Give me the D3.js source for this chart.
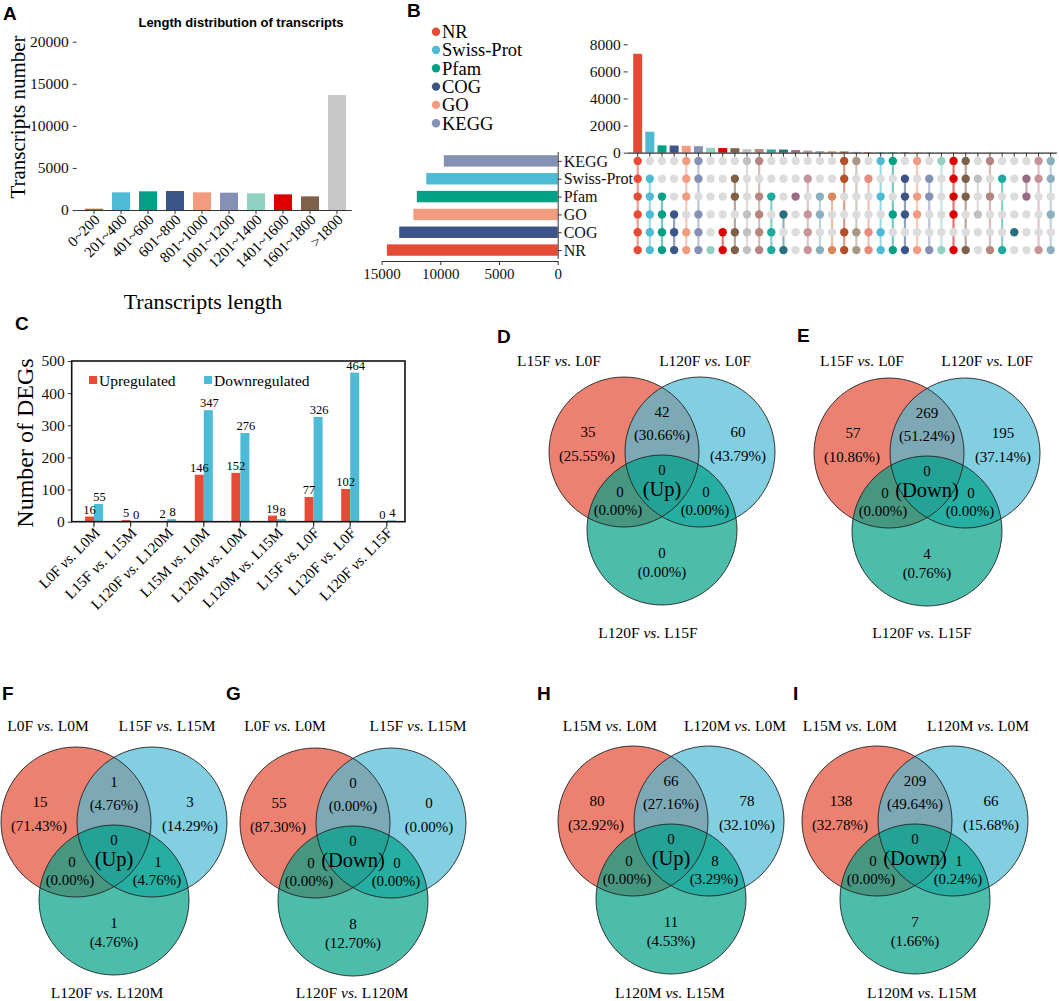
<!DOCTYPE html>
<html>
<head>
<meta charset="utf-8">
<script src="https://cdn.jsdelivr.net/npm/d3@7"></script>
<style>
  body { margin: 0; background: #fff; }
  svg { display: block; font-family: 'Liberation Serif', 'Times New Roman', serif; }
  .panel-letter { font-family: 'Liberation Sans', Arial, sans-serif; font-weight: bold; font-size: 19px; }
</style>
</head>
<body>
<svg id="figure" width="1059" height="1001"></svg>
<script>
// ---- data ----
// A: length distribution
var lengthBins = ['0~200', '201~400', '401~600', '601~800', '801~1000', '1001~1200', '1201~1400', '1401~1600', '1601~1800', '>1800'];
var lengthCounts = [150, 2100, 2220, 2260, 2100, 2060, 1980, 1860, 1620, 13660];

// B: annotation databases
var dbNames = ['KEGG', 'Swiss-Prot', 'Pfam', 'GO', 'COG', 'NR'];
var dbTotals = [9700, 11200, 12000, 12300, 13500, 14550];
var legendNames = ['NR', 'Swiss-Prot', 'Pfam', 'COG', 'GO', 'KEGG'];
var comboSets = [
  ['KEGG', 'Swiss-Prot', 'Pfam', 'GO', 'COG', 'NR'],
  ['Swiss-Prot', 'Pfam', 'GO', 'COG', 'NR'],
  ['Pfam', 'GO', 'COG', 'NR'],
  ['GO', 'COG', 'NR'],
  ['KEGG', 'Swiss-Prot', 'Pfam', 'COG', 'NR'],
  ['KEGG', 'Swiss-Prot', 'GO', 'COG', 'NR'],
  ['NR'],
  ['COG', 'NR'],
  ['Swiss-Prot', 'Pfam', 'COG', 'NR'],
  ['KEGG', 'GO', 'COG', 'NR'],
  ['KEGG', 'Pfam', 'GO', 'COG', 'NR'],
  ['Pfam', 'COG', 'NR'],
  ['GO', 'NR'],
  ['Pfam'],
  ['Swiss-Prot', 'GO', 'COG', 'NR'],
  ['Pfam', 'GO', 'NR'],
  ['Pfam', 'NR'],
  ['KEGG', 'Swiss-Prot', 'COG', 'NR'],
  ['KEGG', 'COG', 'NR'],
  ['Swiss-Prot', 'COG', 'NR'],
  ['KEGG', 'Pfam', 'COG', 'NR'],
  ['KEGG', 'GO', 'NR'],
  ['Swiss-Prot', 'Pfam', 'GO', 'NR'],
  ['KEGG', 'Pfam', 'GO', 'NR'],
  ['Swiss-Prot', 'Pfam', 'NR'],
  ['KEGG', 'NR'],
  ['KEGG', 'Swiss-Prot', 'Pfam', 'GO', 'NR'],
  ['KEGG', 'Swiss-Prot', 'Pfam', 'NR'],
  ['Swiss-Prot', 'GO'],
  ['KEGG', 'Pfam', 'NR'],
  ['Swiss-Prot', 'NR'],
  ['COG'],
  ['Swiss-Prot', 'Pfam'],
  ['KEGG', 'Swiss-Prot', 'NR'],
  ['KEGG', 'Swiss-Prot', 'GO', 'NR']
];
var comboCounts = [7300, 1550, 540, 530, 510, 480, 360, 340, 330, 260, 270, 240, 230, 190, 160, 120, 100, 90, 60, 50,
  40, 35, 30, 25, 20, 18, 15, 12, 10, 8, 6, 5, 4, 3, 2];

// C: DEG counts
var degGroups = ['L0F vs. L0M', 'L15F vs. L15M', 'L120F vs. L120M', 'L15M vs. L0M', 'L120M vs. L0M',
  'L120M vs. L15M', 'L15F vs. L0F', 'L120F vs. L0F', 'L120F vs. L15F'];
var degUp = [16, 5, 2, 146, 152, 19, 77, 102, 0];
var degDown = [55, 0, 8, 347, 276, 8, 326, 464, 4];

// D-I: Venn diagrams, counts in order [A, B, C, AB, AC, BC, ABC]
var vennLetters = ['D', 'E', 'F', 'G', 'H', 'I'];
var vennDirections = ['Up', 'Down', 'Up', 'Down', 'Up', 'Down'];
var vennSetNames = [
  ['L15F vs. L0F', 'L120F vs. L0F', 'L120F vs. L15F'],
  ['L15F vs. L0F', 'L120F vs. L0F', 'L120F vs. L15F'],
  ['L0F vs. L0M', 'L15F vs. L15M', 'L120F vs. L120M'],
  ['L0F vs. L0M', 'L15F vs. L15M', 'L120F vs. L120M'],
  ['L15M vs. L0M', 'L120M vs. L0M', 'L120M vs. L15M'],
  ['L15M vs. L0M', 'L120M vs. L0M', 'L120M vs. L15M']
];
var vennCounts = [
  [35, 60, 0, 42, 0, 0, 0],
  [57, 195, 4, 269, 0, 0, 0],
  [15, 3, 1, 1, 0, 1, 0],
  [55, 0, 8, 0, 0, 0, 0],
  [80, 78, 11, 66, 0, 8, 0],
  [138, 66, 7, 209, 0, 1, 0]
];

// ---- styles / layout ----
var npg = ['#e64b35', '#4dbbd5', '#00a087', '#3c5488', '#f39b7f', '#8491b4', '#91d1c2', '#dc0000', '#7e6148', '#c8c8c8'];
var comboColors = ['#e64b35', '#4dbbd5', '#00a087', '#3c5488', '#f39b7f', '#8491b4', '#91d1c2', '#dc0000', '#7e6148', '#c0c0c0',
  '#b5857f', '#20aa9e', '#2a6f80', '#9a6b85', '#c49499', '#8ab0bf', '#d9885a', '#b3502a', '#a89786', '#e88a7c',
  '#4dbbd5', '#00a087', '#3c5488', '#f39b7f', '#8491b4', '#91d1c2', '#dc0000', '#7e6148', '#c0c0c0', '#b5857f',
  '#20aa9e', '#2a6f80', '#9a6b85', '#c49499', '#8ab0bf'];
var dbColor = d3.scaleOrdinal()
  .domain(['NR', 'Swiss-Prot', 'Pfam', 'COG', 'GO', 'KEGG'])
  .range(['#e64b35', '#4dbbd5', '#00a087', '#3c5488', '#f39b7f', '#8491b4']);

var vennLayout = [
  { x: 662, y: 452, top: [-103, 43], topDy: -86, bottom: [-14, 186] },
  { x: 927, y: 453, top: [-65, 60], topDy: -87, bottom: [-5, 185] },
  { x: 114, y: 822, top: [-66, 53], topDy: -91, bottom: [-7, 176] },
  { x: 353, y: 823, top: [-68, 65], topDy: -92, bottom: [-1, 175] },
  { x: 671, y: 821, top: [-61, 64], topDy: -90, bottom: [-1, 177] },
  { x: 915, y: 821, top: [-65, 63], topDy: -90, bottom: [7, 177] }
];
// text offsets for [A, B, C, AB, AC, BC, ABC]: [count, percent]
var regionOffsets = [
  [[-74, -20], [-75, 4]],
  [[76, -20], [76, 4]],
  [[0, 101], [0, 120]],
  [[0, -40], [0, -17]],
  [[-42, 40], [-44, 58]],
  [[44, 40], [43, 58]],
  [[0, 18], [0, 37]]
];

var svg = d3.select('#figure');
var fmt = d3.format('d');

function letter(t, x, y) {
  svg.append('text').attr('class', 'panel-letter').attr('x', x).attr('y', y).text(t);
}

function cleanAxis(g, size) {
  g.attr('font-family', null).attr('font-size', size);
  g.selectAll('text').attr('fill', '#111');
  g.selectAll('line, path').attr('stroke', '#333');
}

// label with italic "vs."
function vsText(sel, label) {
  var parts = label.split(' vs. ');
  sel.append('tspan').text(parts[0] + ' ');
  sel.append('tspan').attr('font-style', 'italic').text('vs.');
  sel.append('tspan').text(' ' + parts[1]);
}

// percentages to 2 decimals that add up to 100 (largest remainder)
function percents(counts) {
  var total = d3.sum(counts);
  if (!total) return counts.map(function () { return '0.00'; });
  var raw = counts.map(function (c) { return c / total * 10000; });
  var fl = raw.map(Math.floor);
  var left = 10000 - d3.sum(fl);
  d3.range(raw.length).sort(function (a, b) { return (raw[b] - fl[b]) - (raw[a] - fl[a]); })
    .slice(0, left).forEach(function (i) { fl[i] += 1; });
  return fl.map(function (v) { return (v / 100).toFixed(2); });
}

// ---- A ----
function drawLength() {
  var g = svg.append('g');
  var x = d3.scaleBand().domain(lengthBins).range([80.5, 350.5]).paddingInner(0.333).paddingOuter(0.167);
  var y = d3.scaleLinear().domain([0, 20000]).range([210, 41.7]);

  g.selectAll('rect').data(lengthCounts).enter().append('rect')
    .attr('x', function (d, i) { return x(lengthBins[i]); })
    .attr('y', function (d) { return y(d); })
    .attr('width', x.bandwidth())
    .attr('height', function (d) { return y(0) - y(d); })
    .attr('fill', function (d, i) { return npg[i]; });

  g.append('g').attr('transform', 'translate(76.7,0)')
    .call(d3.axisLeft(y).tickValues([0, 5000, 10000, 15000, 20000]).tickFormat(fmt).tickSize(4).tickPadding(4))
    .call(function (a) { a.select('.domain').remove(); cleanAxis(a, 15.5); });

  g.append('g').attr('transform', 'translate(0,210)')
    .call(d3.axisBottom(x).tickSize(4).tickFormat('').tickSizeOuter(0))
    .call(function (a) {
      cleanAxis(a, 14);
      a.select('.domain').attr('d', 'M76.7,0.5H351.7');
    });

  g.selectAll('.xl').data(lengthBins).enter().append('text')
    .attr('transform', function (d) { return 'translate(' + (x(d) + x.bandwidth() / 2 + 3) + ',217) rotate(-45)'; })
    .attr('text-anchor', 'end').attr('dy', '0.35em')
    .attr('font-size', 15).text(function (d) { return d; });

  g.append('text').attr('x', 241).attr('y', 27).attr('text-anchor', 'middle')
    .attr('font-family', "'Liberation Sans', Arial, sans-serif").attr('font-weight', 'bold').attr('font-size', 13)
    .text('Length distribution of transcripts');
  g.append('text').attr('transform', 'translate(25,117) rotate(-90)').attr('text-anchor', 'middle')
    .attr('font-size', 21).text('Transcripts number');
  g.append('text').attr('x', 203).attr('y', 309).attr('text-anchor', 'middle')
    .attr('font-size', 22).text('Transcripts length');
}

// ---- B ----
function drawUpset() {
  var g = svg.append('g');
  var rows = d3.scaleBand().domain(dbNames).range([152, 259]).paddingInner(0.36).paddingOuter(0.18);
  var rowY = function (d) { return rows(d) + rows.bandwidth() / 2; };

  // legend
  legendNames.forEach(function (n, i) {
    var ly = 31.7 + i * 18.3;
    g.append('circle').attr('cx', 436).attr('cy', ly).attr('r', 4.2).attr('fill', dbColor(n));
    g.append('text').attr('x', 442).attr('y', ly).attr('dy', '0.35em').attr('font-size', 18.5).text(n);
  });

  // set size bars
  var xs = d3.scaleLinear().domain([0, 15000]).range([557.7, 381.6]);
  g.selectAll('.setbar').data(dbTotals).enter().append('rect')
    .attr('x', function (d) { return xs(d); })
    .attr('y', function (d, i) { return rows(dbNames[i]); })
    .attr('width', function (d) { return xs(0) - xs(d); })
    .attr('height', rows.bandwidth())
    .attr('fill', function (d, i) { return dbColor(dbNames[i]); });

  g.append('g').attr('transform', 'translate(0,261)')
    .call(d3.axisBottom(xs).tickValues([0, 5000, 10000, 15000]).tickFormat(fmt).tickSize(4).tickSizeOuter(0).tickPadding(3))
    .call(function (a) { cleanAxis(a, 15); });

  var rAxis = d3.axisRight(d3.scalePoint().domain(dbNames).range([rowY('KEGG'), rowY('NR')]))
    .tickSize(4).tickPadding(2).tickSizeOuter(0);
  g.append('g').attr('transform', 'translate(557.7,0)').call(rAxis)
    .call(function (a) {
      cleanAxis(a, 16);
      a.select('.domain').attr('d', 'M0.5,152V259');
    });

  // intersection bars
  var cols = d3.scaleBand().domain(d3.range(comboCounts.length)).range([631.6, 1056.8]).paddingInner(0.26).paddingOuter(0.13);
  var colX = function (i) { return cols(i) + cols.bandwidth() / 2; };
  var yc = d3.scaleLinear().domain([0, 8000]).range([152.7, 44.3]);

  g.selectAll('.cbar').data(comboCounts).enter().append('rect')
    .attr('x', function (d, i) { return cols(i); })
    .attr('y', function (d) { return yc(d); })
    .attr('width', cols.bandwidth())
    .attr('height', function (d) { return yc(0) - yc(d); })
    .attr('fill', function (d, i) { return comboColors[i]; });

  g.append('g').attr('transform', 'translate(627.7,0)')
    .call(d3.axisLeft(yc).tickValues([0, 2000, 4000, 6000, 8000]).tickFormat(fmt).tickSize(4).tickPadding(3))
    .call(function (a) { a.select('.domain').remove(); cleanAxis(a, 15.5); });

  g.append('g').attr('transform', 'translate(0,152.7)')
    .call(d3.axisBottom(cols).tickSize(4).tickFormat('').tickSizeOuter(0))
    .call(function (a) {
      cleanAxis(a, 10);
      a.select('.domain').attr('d', 'M627.7,0.5H1056.8').attr('stroke-width', 1.3);
    });

  // matrix
  var mat = g.append('g');
  comboSets.forEach(function (set, i) {
    var ys = set.map(rowY);
    if (set.length > 1) {
      mat.append('line')
        .attr('x1', colX(i)).attr('x2', colX(i))
        .attr('y1', d3.min(ys)).attr('y2', d3.max(ys))
        .attr('stroke', comboColors[i]).attr('stroke-opacity', 0.55).attr('stroke-width', 2.2);
    }
    dbNames.forEach(function (db) {
      var on = set.indexOf(db) >= 0;
      mat.append('circle').attr('cx', colX(i)).attr('cy', rowY(db)).attr('r', 4.2)
        .attr('fill', on ? comboColors[i] : '#dcdcdc');
    });
  });
}

// ---- C ----
function drawDegs() {
  var g = svg.append('g');
  var x = d3.scaleBand().domain(degGroups).range([75.7, 405.1]);
  var y = d3.scaleLinear().domain([0, 500]).range([521.7, 361]);
  var bw = 9;
  var cx = function (d) { return x(d) + x.bandwidth() / 2; };

  g.selectAll('.up').data(degUp).enter().append('rect')
    .attr('x', function (d, i) { return cx(degGroups[i]) - bw; })
    .attr('y', function (d) { return y(d); })
    .attr('width', bw).attr('height', function (d) { return y(0) - y(d); })
    .attr('fill', '#e64b35');
  g.selectAll('.down').data(degDown).enter().append('rect')
    .attr('x', function (d, i) { return cx(degGroups[i]); })
    .attr('y', function (d) { return y(d); })
    .attr('width', bw).attr('height', function (d) { return y(0) - y(d); })
    .attr('fill', '#4dbbd5');

  g.selectAll('.upl').data(degUp).enter().append('text')
    .attr('x', function (d, i) { return cx(degGroups[i]) - bw / 2; })
    .attr('y', function (d) { return y(d) - 3; })
    .attr('text-anchor', 'middle').attr('font-size', 12.5).text(function (d) { return d; });
  g.selectAll('.downl').data(degDown).enter().append('text')
    .attr('x', function (d, i) { return cx(degGroups[i]) + bw / 2 + 1; })
    .attr('y', function (d) { return y(d) - 3; })
    .attr('text-anchor', 'middle').attr('font-size', 12.5).text(function (d) { return d; });

  g.append('g').attr('transform', 'translate(71.7,0)')
    .call(d3.axisLeft(y).ticks(5).tickSize(4).tickPadding(3))
    .call(function (a) { a.select('.domain').remove(); cleanAxis(a, 15.5); });
  g.append('g').attr('transform', 'translate(0,521.7)')
    .call(d3.axisBottom(x).tickSize(5).tickFormat(''))
    .call(function (a) { a.select('.domain').remove(); cleanAxis(a, 10); a.selectAll('line').attr('stroke-width', 1.3); });

  g.append('rect').attr('x', 71.7).attr('y', 361).attr('width', 333.3).attr('height', 160.7)
    .attr('fill', 'none').attr('stroke', '#111').attr('stroke-width', 1.6);

  g.selectAll('.xl').data(degGroups).enter().append('text')
    .attr('transform', function (d) { return 'translate(' + (cx(d) + 3) + ',530) rotate(-45)'; })
    .attr('text-anchor', 'end').attr('dy', '0.35em').attr('font-size', 15)
    .each(function (d) { vsText(d3.select(this), d); });

  // legend
  var lg = [['Upregulated', '#e64b35', 89], ['Downregulated', '#4dbbd5', 204]];
  lg.forEach(function (l) {
    g.append('rect').attr('x', l[2]).attr('y', 376).attr('width', 8).attr('height', 8).attr('fill', l[1]);
    g.append('text').attr('x', l[2] + 10).attr('y', 385.5).attr('font-size', 15.5).text(l[0]);
  });

  g.append('text').attr('transform', 'translate(33,443) rotate(-90)').attr('text-anchor', 'middle')
    .attr('font-size', 24).text('Number of DEGs');
}

// ---- D-I ----
function drawVenn(k) {
  var L = vennLayout[k];
  var counts = vennCounts[k];
  var pct = percents(counts);
  var g = svg.append('g').attr('transform', 'translate(' + L.x + ',' + L.y + ')');
  var circles = [[-38, 0, '#e64b35'], [38, 0, '#4dbbd5'], [0, 78, '#00a087']];

  g.selectAll('circle').data(circles).enter().append('circle')
    .attr('cx', function (d) { return d[0]; }).attr('cy', function (d) { return d[1]; }).attr('r', 75)
    .attr('fill', function (d) { return d[2]; }).attr('fill-opacity', 0.7);
  g.selectAll('.outline').data(circles).enter().append('circle')
    .attr('cx', function (d) { return d[0]; }).attr('cy', function (d) { return d[1]; }).attr('r', 75)
    .attr('fill', 'none').attr('stroke', '#222').attr('stroke-width', 0.9);

  counts.forEach(function (c, i) {
    var o = regionOffsets[i];
    g.append('text').attr('x', o[0][0]).attr('y', o[0][1]).attr('dy', '0.35em')
      .attr('text-anchor', 'middle').attr('font-size', 15).text(c);
    if (i < 6) {
      g.append('text').attr('x', o[1][0]).attr('y', o[1][1]).attr('dy', '0.35em')
        .attr('text-anchor', 'middle').attr('font-size', 15)
        .text('(' + pct[i] + '%)');
    } else {
      g.append('text').attr('x', o[1][0]).attr('y', o[1][1]).attr('dy', '0.35em')
        .attr('text-anchor', 'middle').attr('font-size', 20.5).text('(' + vennDirections[k] + ')');
    }
  });

  var names = vennSetNames[k];
  [[L.top[0], L.topDy], [L.top[1], L.topDy], L.bottom].forEach(function (p, i) {
    var t = g.append('text').attr('x', p[0]).attr('y', p[1]).attr('text-anchor', 'middle').attr('font-size', 15.5);
    vsText(t, names[i]);
  });
}

drawLength();
drawUpset();
drawDegs();
vennLetters.forEach(function (l, k) { drawVenn(k); });

var letters = [['A', 3, 20], ['B', 407, 17], ['C', 15, 330], ['D', 497, 343], ['E', 797, 342],
  ['F', 2, 700], ['G', 226, 700], ['H', 537, 700], ['I', 793, 700]];
letters.forEach(function (l) { letter(l[0], l[1], l[2]); });
</script>
</body>
</html>
